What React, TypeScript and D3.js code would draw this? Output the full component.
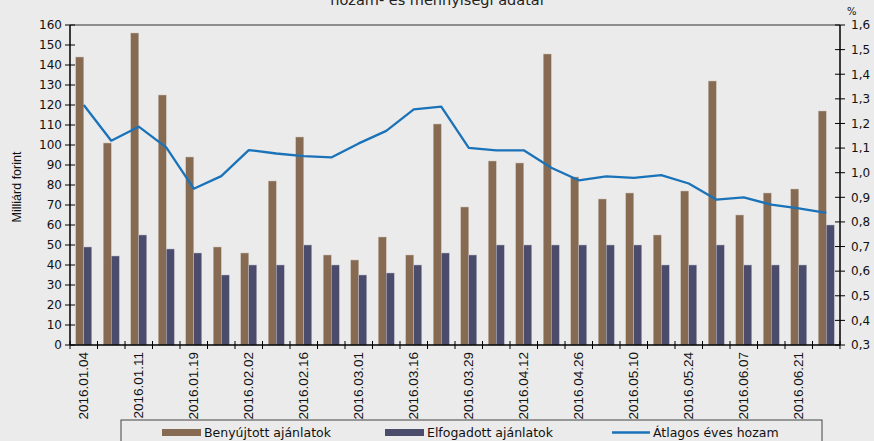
import React from "react";
import * as d3 from "d3";

const categories = [
  "2016.01.04", "2016.01.07", "2016.01.11", "2016.01.14", "2016.01.19", "2016.01.26",
  "2016.02.02", "2016.02.09", "2016.02.16", "2016.02.23", "2016.03.01", "2016.03.08",
  "2016.03.16", "2016.03.22", "2016.03.29", "2016.04.05", "2016.04.12", "2016.04.19",
  "2016.04.26", "2016.05.03", "2016.05.10", "2016.05.17", "2016.05.24", "2016.05.31",
  "2016.06.07", "2016.06.14", "2016.06.21", "2016.06.28",
];
const submitted = [144, 101, 156, 125, 94, 49, 46, 82, 104, 45, 42.5, 54, 45, 110.5, 69, 92, 91, 145.5, 84, 73, 76, 55, 77, 132, 65, 76, 78, 117];
const accepted = [49, 44.5, 55, 48, 46, 35, 40, 40, 50, 40, 35, 36, 40, 46, 45, 50, 50, 50, 50, 50, 50, 40, 40, 50, 40, 40, 40, 60];
const avgYield = [1.275, 1.13, 1.187, 1.103, 0.935, 0.986, 1.092, 1.078, 1.067, 1.062, 1.119, 1.17, 1.257, 1.268, 1.101, 1.091, 1.091, 1.02, 0.969, 0.985, 0.979, 0.99, 0.956, 0.891, 0.9, 0.87, 0.855, 0.837];
const leftTicks = d3.range(0, 161, 10);
const rightTicks = d3.range(3, 17).map((v) => v / 10);
const seriesNames = ["Benyújtott ajánlatok", "Elfogadott ajánlatok", "Átlagos éves hozam"];
const title = "hozam- és mennyiségi adatai";

const W = 874, H = 441;
const L = 70, R = 840, T = 25, B = 345;
const BROWN = "#876a52", NAVY = "#4b4b6b", LINE = "#1a72b8";
const FONT = "'DejaVu Sans', Verdana, sans-serif";
const NARROW = "'Liberation Sans Narrow', 'Arial Narrow', 'Liberation Sans', sans-serif";

export default function App() {
  const x = d3.scaleBand<string>().domain(categories).range([L, R]).padding(0);
  const y = d3.scaleLinear().domain([0, 160]).range([B, T]);
  const y2 = d3.scaleLinear().domain([0.3, 1.6]).range([B, T]);
  const bw = 8;
  const line = d3
    .line<number>()
    .x((_, i) => (x(categories[i]) as number) + x.bandwidth() / 2)
    .y((d) => y2(d));
  const fmt = (v: number) => v.toFixed(1).replace(".", ",");

  return (
    <svg width={W} height={H} style={{ position: "absolute", left: 0, top: 0, background: "#ebebeb" }}>
      <rect x={0} y={0} width={W} height={H} fill="#ebebeb" />
      <text x={437} y={5} textAnchor="middle" fontFamily={FONT} fontSize={14.5} fill="#222">{title}</text>
      {/* top border */}
      <line x1={L} x2={R} y1={T} y2={T} stroke="#6e6e6e" strokeWidth={1.5} />
      {/* bars */}
      {categories.map((c, i) => {
        const cx = (x(c) as number) + x.bandwidth() / 2;
        return (
          <g key={c}>
            <rect x={cx - bw} y={y(submitted[i])} width={bw} height={B - y(submitted[i])} fill={BROWN} stroke="#c9bfb5" strokeWidth={0.5} />
            <rect x={cx} y={y(accepted[i])} width={bw} height={B - y(accepted[i])} fill={NAVY} stroke="#b8b8c8" strokeWidth={0.5} />
          </g>
        );
      })}
      <path d={line(avgYield) as string} fill="none" stroke={LINE} strokeWidth={2.3} strokeLinejoin="round" />
      {/* left axis */}
      <line x1={L} x2={L} y1={T} y2={B} stroke="#000" strokeWidth={1.5} />
      {leftTicks.map((t) => (
        <g key={t}>
          <line x1={L - 5} x2={L + 5} y1={y(t)} y2={y(t)} stroke="#000" strokeWidth={1} />
          <text x={62} y={y(t)} dy="0.36em" textAnchor="end" fontFamily={FONT} fontSize={12} fill="#111">{t}</text>
        </g>
      ))}
      {/* right axis */}
      <line x1={R} x2={R} y1={T} y2={B} stroke="#000" strokeWidth={1.5} />
      {rightTicks.map((t) => (
        <g key={t}>
          <line x1={R - 5} x2={R + 5} y1={y2(t)} y2={y2(t)} stroke="#000" strokeWidth={1} />
          <text x={851} y={y2(t)} dy="0.36em" textAnchor="start" fontFamily={FONT} fontSize={12} fill="#111">{fmt(t)}</text>
        </g>
      ))}
      <text x={847} y={15} fontFamily={FONT} fontSize={10} fill="#111">%</text>
      {/* bottom axis */}
      <line x1={L} x2={R} y1={B} y2={B} stroke="#000" strokeWidth={1.5} />
      {categories.map((c) => (
        <line key={c} x1={x(c) as number} x2={x(c) as number} y1={B - 4} y2={B + 4} stroke="#000" strokeWidth={1} />
      ))}
      <line x1={R} x2={R} y1={B - 4} y2={B + 4} stroke="#000" strokeWidth={1} />
      {categories.map((c, i) =>
        i % 2 === 0 ? (
          <text
            key={c}
            transform={`translate(${(x(c) as number) + x.bandwidth() / 2},352) rotate(-90)`}
            dy="0.35em"
            textAnchor="end"
            fontFamily={NARROW}
            fontSize={13.5}
            fill="#111"
          >
            {c}
          </text>
        ) : null
      )}
      <text transform="translate(17,187) rotate(-90)" dy="0.35em" textAnchor="middle" fontFamily={NARROW} fontSize={12.5} fill="#111">Milliárd forint</text>
      {/* legend */}
      <rect x={121} y={420} width={701} height={30} fill="#ebebeb" stroke="#444" strokeWidth={1} />
      <rect x={162} y={429} width={39} height={7} fill={BROWN} />
      <text x={204} y={437} fontFamily={FONT} fontSize={12.5} fill="#111">{seriesNames[0]}</text>
      <rect x={385} y={429} width={39} height={7} fill={NAVY} />
      <text x={427} y={437} fontFamily={FONT} fontSize={12.5} fill="#111">{seriesNames[1]}</text>
      <line x1={612} x2={650} y1={432.5} y2={432.5} stroke={LINE} strokeWidth={2.3} />
      <text x={653} y={437} fontFamily={FONT} fontSize={12.5} fill="#111">{seriesNames[2]}</text>
    </svg>
  );
}
